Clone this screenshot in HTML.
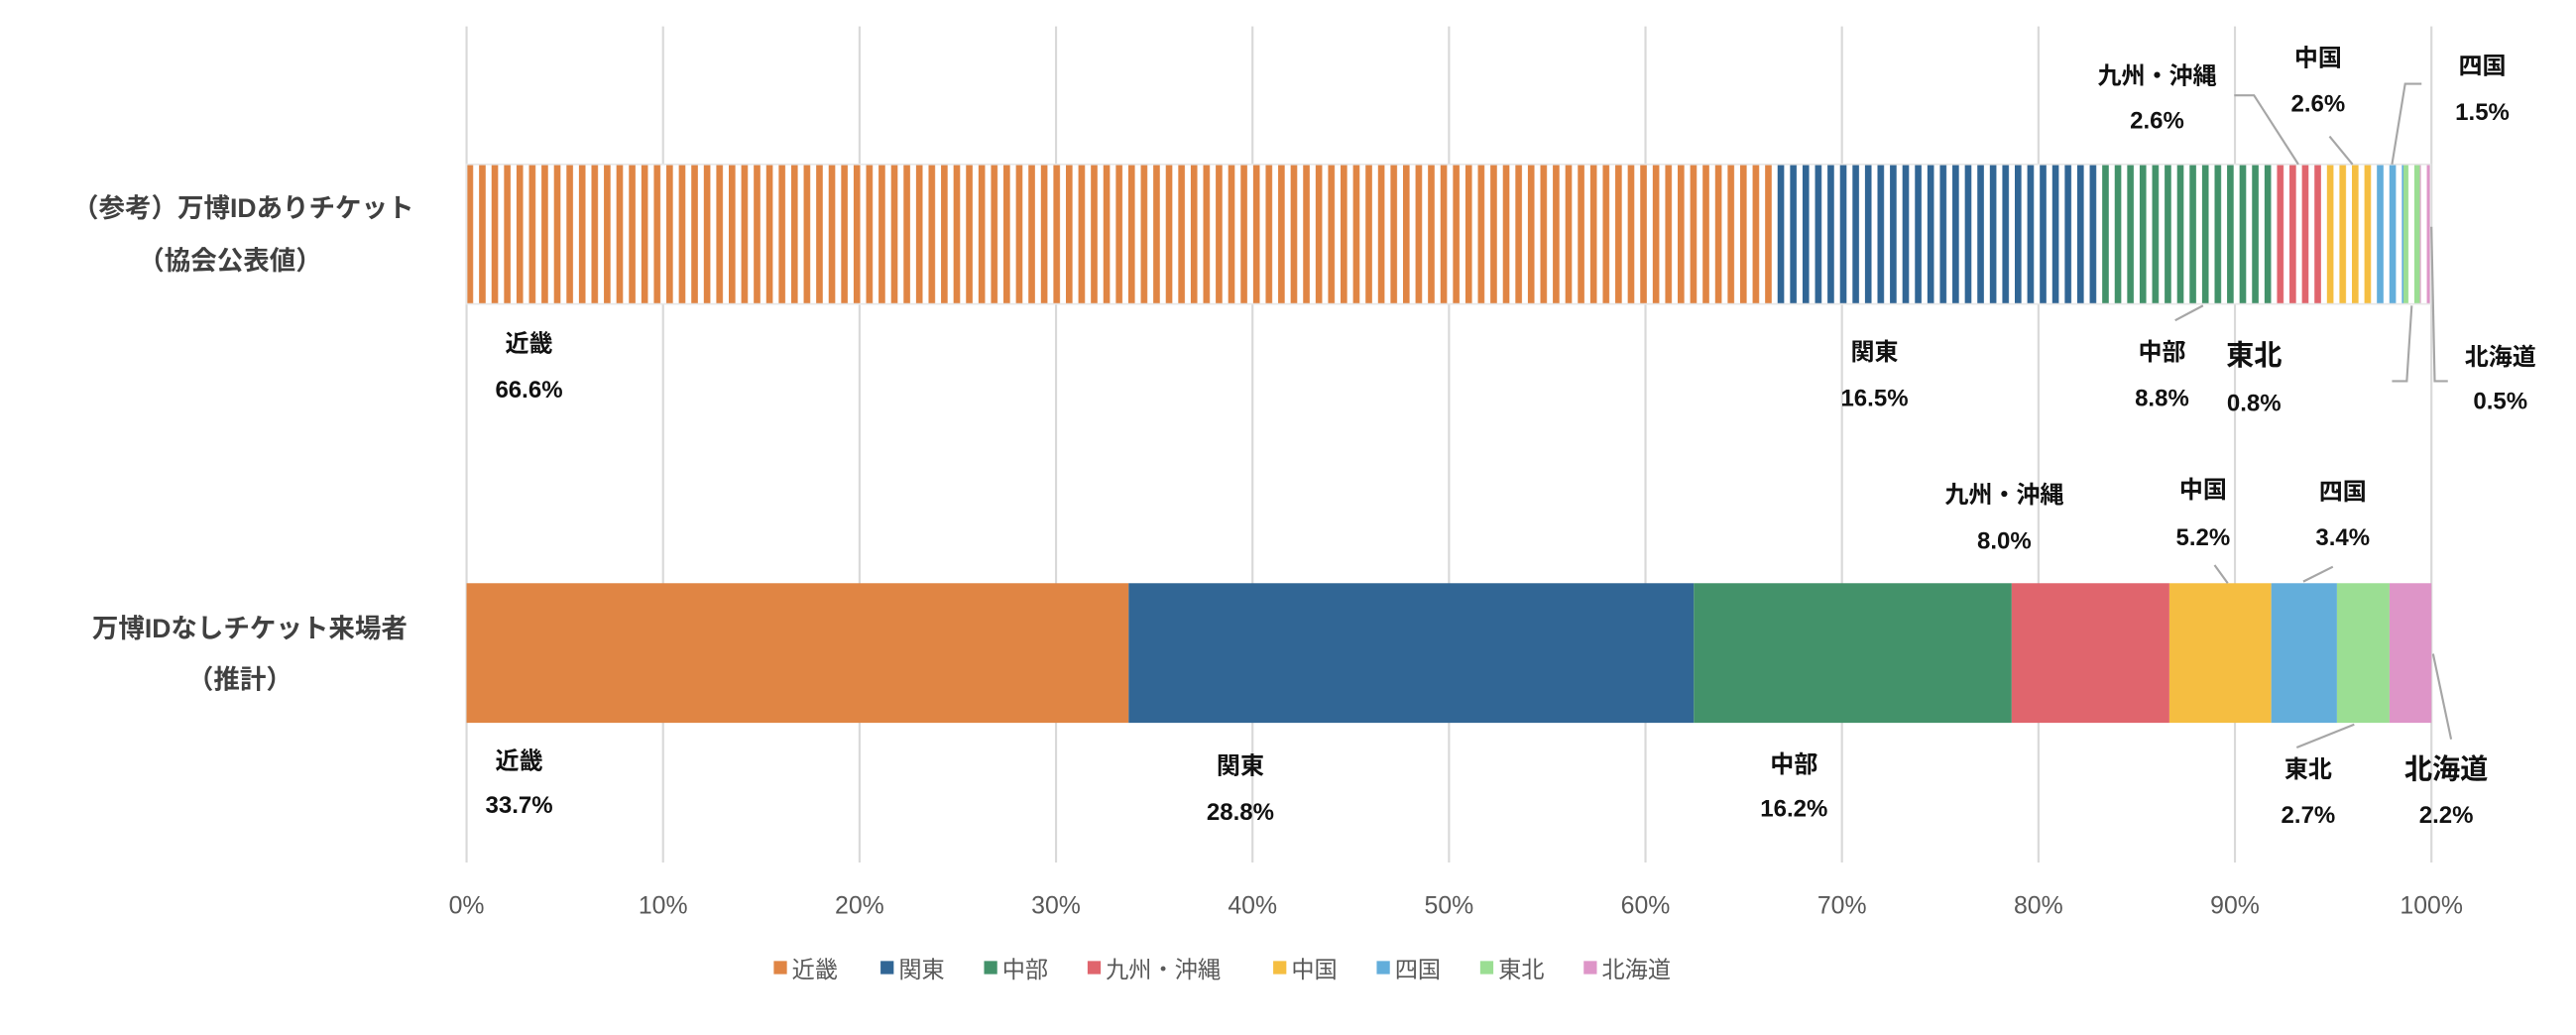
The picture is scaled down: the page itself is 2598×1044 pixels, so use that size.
<!DOCTYPE html>
<html><head><meta charset="utf-8"><style>
html,body{margin:0;padding:0;background:#fff;}
svg{display:block;}
text{font-family:"Liberation Sans","Noto Sans CJK JP",sans-serif;}
.l{font-weight:bold;font-size:14.5px;fill:#111;text-anchor:middle;}
.lb{font-weight:bold;font-size:17px;fill:#111;text-anchor:middle;}
.c{font-weight:bold;font-size:16px;fill:#404040;text-anchor:middle;}
.ax{font-size:15px;fill:#595959;text-anchor:middle;}
.lg{font-size:14px;fill:#595959;}
.ld{stroke:#a6a6a6;stroke-width:1.3;fill:none;}
</style></head><body>
<svg width="2598" height="1044" viewBox="0 0 1568 630" xmlns="http://www.w3.org/2000/svg">
<defs>
<pattern id="st" patternUnits="userSpaceOnUse" width="7.6" height="10" x="284">
<rect x="4" y="0" width="3.6" height="10" fill="#fff"/>
</pattern>
</defs>
<g stroke="#d9d9d9" stroke-width="1.3">
<line x1="284" y1="16" x2="284" y2="525"/>
<line x1="403.6" y1="16" x2="403.6" y2="525"/>
<line x1="523.2" y1="16" x2="523.2" y2="525"/>
<line x1="642.8" y1="16" x2="642.8" y2="525"/>
<line x1="762.4" y1="16" x2="762.4" y2="525"/>
<line x1="882" y1="16" x2="882" y2="525"/>
<line x1="1001.6" y1="16" x2="1001.6" y2="525"/>
<line x1="1121.2" y1="16" x2="1121.2" y2="525"/>
<line x1="1240.8" y1="16" x2="1240.8" y2="525"/>
<line x1="1360.4" y1="16" x2="1360.4" y2="525"/>
<line x1="1480" y1="16" x2="1480" y2="525"/>
</g>
<!-- top bar -->
<g>
<rect x="284" y="100" width="796.5" height="85" fill="#E08544"/>
<rect x="1080.5" y="100" width="197.5" height="85" fill="#316695"/>
<rect x="1278" y="100" width="105" height="85" fill="#43926A"/>
<rect x="1383" y="100" width="31" height="85" fill="#E0656D"/>
<rect x="1414" y="100" width="31" height="85" fill="#F5BE41"/>
<rect x="1445" y="100" width="18" height="85" fill="#63AEDB"/>
<rect x="1463" y="100" width="10" height="85" fill="#9BDE93"/>
<rect x="1473" y="100" width="6.5" height="85" fill="#DE95C8"/>
<rect x="284" y="100" width="1195.5" height="85" fill="url(#st)"/>
<rect x="284" y="100" width="1195.5" height="85" fill="none" stroke="#e6e6e6" stroke-width="1"/>
</g>
<!-- bottom bar -->
<rect x="284" y="355" width="403" height="85" fill="#E08544"/>
<rect x="687" y="355" width="344" height="85" fill="#316695"/>
<rect x="1031" y="355" width="193.5" height="85" fill="#43926A"/>
<rect x="1224.5" y="355" width="96" height="85" fill="#E0656D"/>
<rect x="1320.5" y="355" width="62" height="85" fill="#F5BE41"/>
<rect x="1382.5" y="355" width="40" height="85" fill="#63AEDB"/>
<rect x="1422.5" y="355" width="32" height="85" fill="#9BDE93"/>
<rect x="1454.5" y="355" width="25.5" height="85" fill="#DE95C8"/>
<!-- leader lines -->
<path class="ld" d="M1360 58 L1372 58 L1399 100"/>
<path class="ld" d="M1418 83 L1432 100"/>
<path class="ld" d="M1474 51 L1464 51 L1456 100"/>
<path class="ld" d="M1324 195 L1341 186"/>
<path class="ld" d="M1456 232 L1465 232 L1468 186"/>
<path class="ld" d="M1490 232 L1482 232 L1480 138"/>
<path class="ld" d="M1348 344 L1356 355"/>
<path class="ld" d="M1420 345 L1402 354"/>
<path class="ld" d="M1398 455 L1433 441"/>
<path class="ld" d="M1492 450 L1481 398"/>
<!-- labels top -->
<text class="l" x="322" y="214">近畿</text><text class="l" x="322" y="242">66.6%</text>
<text class="l" x="1141" y="219">関東</text><text class="l" x="1141" y="247">16.5%</text>
<text class="l" x="1316" y="219">中部</text><text class="l" x="1316" y="247">8.8%</text>
<text class="lb" x="1372" y="222">東北</text><text class="l" x="1372" y="250">0.8%</text>
<text class="l" x="1522" y="222">北海道</text><text class="l" x="1522" y="249">0.5%</text>
<text class="l" x="1313" y="51">九州・沖縄</text><text class="l" x="1313" y="78">2.6%</text>
<text class="l" x="1411" y="40">中国</text><text class="l" x="1411" y="68">2.6%</text>
<text class="l" x="1511" y="45">四国</text><text class="l" x="1511" y="73">1.5%</text>
<!-- labels bottom -->
<text class="l" x="1220" y="306">九州・沖縄</text><text class="l" x="1220" y="334">8.0%</text>
<text class="l" x="1341" y="303">中国</text><text class="l" x="1341" y="332">5.2%</text>
<text class="l" x="1426" y="304">四国</text><text class="l" x="1426" y="332">3.4%</text>
<text class="l" x="316" y="468">近畿</text><text class="l" x="316" y="495">33.7%</text>
<text class="l" x="755" y="471">関東</text><text class="l" x="755" y="499">28.8%</text>
<text class="l" x="1092" y="470">中部</text><text class="l" x="1092" y="497">16.2%</text>
<text class="l" x="1405" y="473">東北</text><text class="l" x="1405" y="501">2.7%</text>
<text class="lb" x="1489" y="474">北海道</text><text class="l" x="1489" y="501">2.2%</text>
<!-- categories -->
<text class="c" x="148" y="132">（参考）万博IDありチケット</text>
<text class="c" x="140" y="164">（協会公表値）</text>
<text class="c" x="152" y="388">万博IDなしチケット来場者</text>
<text class="c" x="146" y="419">（推計）</text>
<!-- axis -->
<text class="ax" x="284" y="556">0%</text>
<text class="ax" x="403.6" y="556">10%</text>
<text class="ax" x="523.2" y="556">20%</text>
<text class="ax" x="642.8" y="556">30%</text>
<text class="ax" x="762.4" y="556">40%</text>
<text class="ax" x="882" y="556">50%</text>
<text class="ax" x="1001.6" y="556">60%</text>
<text class="ax" x="1121.2" y="556">70%</text>
<text class="ax" x="1240.8" y="556">80%</text>
<text class="ax" x="1360.4" y="556">90%</text>
<text class="ax" x="1480" y="556">100%</text>
<!-- legend -->
<rect x="471" y="585" width="8" height="8" fill="#E08544"/><text class="lg" x="482" y="595">近畿</text>
<rect x="536" y="585" width="8" height="8" fill="#316695"/><text class="lg" x="547" y="595">関東</text>
<rect x="599" y="585" width="8" height="8" fill="#43926A"/><text class="lg" x="610" y="595">中部</text>
<rect x="662" y="585" width="8" height="8" fill="#E0656D"/><text class="lg" x="673" y="595">九州・沖縄</text>
<rect x="775" y="585" width="8" height="8" fill="#F5BE41"/><text class="lg" x="786" y="595">中国</text>
<rect x="838" y="585" width="8" height="8" fill="#63AEDB"/><text class="lg" x="849" y="595">四国</text>
<rect x="901" y="585" width="8" height="8" fill="#9BDE93"/><text class="lg" x="912" y="595">東北</text>
<rect x="964" y="585" width="8" height="8" fill="#DE95C8"/><text class="lg" x="975" y="595">北海道</text>
</svg>
</body></html>
